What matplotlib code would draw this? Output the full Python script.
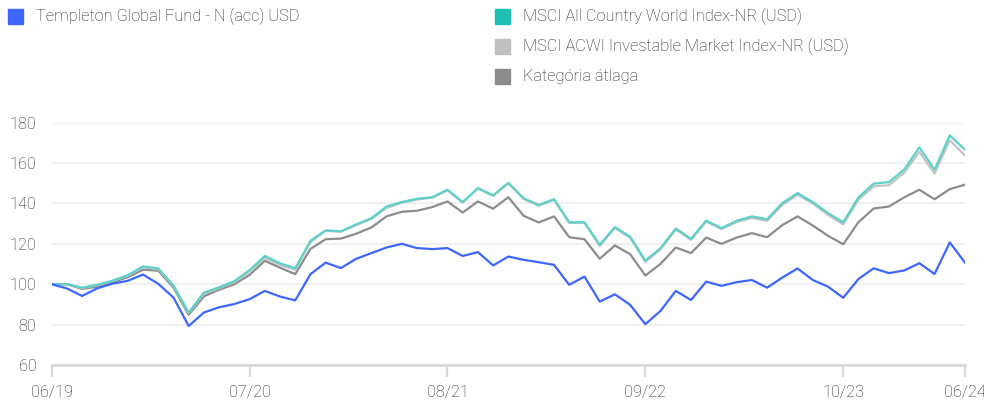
import matplotlib
matplotlib.use("Agg")
import matplotlib.pyplot as plt
from matplotlib.patches import Rectangle
import numpy as np

# ---------------- data ----------------
tick_pos = [0, 13, 26, 39, 52, 60]
tick_labels = ["06/19", "07/20", "08/21", "09/22", "10/23", "06/24"]
y_ticks = [60, 80, 100, 120, 140, 160, 180]

fund = [100, 97.9, 94.2, 98.0, 100.3, 101.7, 104.8, 100.2, 93.4, 79.3,
        86.0, 88.6, 90.2, 92.6, 96.7, 93.9, 92.0, 105.0, 110.7, 108.0,
        112.6, 115.4, 118.2, 120.0, 117.9, 117.4, 117.9, 114.0, 115.9, 109.3,
        113.7, 112.1, 110.9, 109.6, 99.7, 103.8, 91.4, 95.0, 89.8, 80.2,
        86.8, 96.7, 92.2, 101.3, 99.2, 101.0, 102.1, 98.3, 103.3, 107.8,
        102.1, 98.8, 93.3, 102.6, 107.9, 105.5, 106.8, 110.4, 105.1, 120.7,
        110.7]

acwi = [100, 100, 98.3, 99.7, 101.8, 104.5, 108.8, 107.8, 99.3, 86.0,
        95.8, 98.5, 101.5, 107.0, 114.0, 110.4, 107.9, 121.5, 126.7, 126.2,
        129.6, 132.7, 138.5, 140.7, 142.3, 143.1, 146.8, 140.7, 147.6, 144.0,
        150.2, 142.6, 139.3, 142.1, 130.7, 130.7, 119.5, 128.3, 123.6, 111.7,
        117.9, 127.6, 122.5, 131.5, 127.8, 131.4, 133.6, 132.2, 140.2, 145.1,
        140.7, 135.2, 130.7, 143.0, 149.8, 150.6, 156.7, 167.8, 156.7, 173.7,
        166.6]

imi = [100, 100, 98.1, 99.5, 101.6, 104.2, 108.5, 107.5, 99.0, 85.8,
       95.3, 98.1, 101.0, 106.3, 113.0, 109.6, 107.2, 120.9, 126.4, 126.0,
       129.3, 132.3, 137.8, 140.3, 142.0, 142.8, 146.5, 140.5, 147.4, 143.8,
       150.0, 142.2, 138.9, 141.8, 130.4, 130.4, 119.0, 127.8, 123.0, 111.0,
       117.3, 127.0, 122.0, 131.0, 127.3, 130.8, 132.8, 131.4, 139.3, 144.3,
       140.0, 134.4, 129.6, 141.8, 148.5, 149.0, 155.2, 165.5, 154.8, 171.3,
       163.8]

category = [100, 100, 97.7, 98.8, 101.0, 103.5, 107.2, 106.7, 98.3, 84.9,
            94.0, 97.3, 100.0, 104.6, 111.6, 108.2, 105.0, 117.5, 122.3, 122.6,
            125.0, 128.1, 133.6, 135.9, 136.4, 138.2, 141.0, 135.5, 141.0, 137.4,
            143.1, 133.9, 130.6, 133.6, 123.3, 122.3, 112.6, 119.2, 114.9, 104.3,
            110.1, 118.2, 115.4, 123.1, 120.0, 123.1, 125.3, 123.3, 129.3, 133.6,
            129.1, 124.0, 119.8, 130.7, 137.5, 138.5, 143.0, 146.8, 142.1, 147.1,
            149.3]

series_names = ["Templeton Global Fund - N (acc) USD",
                "MSCI All Country World Index-NR (USD)",
                "MSCI ACWI Investable Market Index-NR (USD)",
                "Kategória átlaga"]
colors = ["#3D67FF", "#1DBFB2", "#C0C0C0", "#8C8C8C"]
line_colors = ["#3D67FF", "#5CD1C8", "#C4C4C4", "#8C8C8C"]

# ---------------- figure ----------------
plt.rcParams['font.family'] = ['Roboto', 'DejaVu Sans']
plt.rcParams['font.weight'] = 'light'
FS = 11.8
TXT = '#222222'
W, H = 984, 405
fig = plt.figure(figsize=(W / 100, H / 100), dpi=100)
ax = fig.add_axes([51.7 / W, (H - 365) / H, (965 - 51.7) / W, (365 - 122.7) / H])

x = np.arange(len(fund))
ax.plot(x, category, color=line_colors[3], lw=1.6, zorder=3)
ax.plot(x, imi, color=line_colors[2], lw=1.6, zorder=4)
ax.plot(x, acwi, color=line_colors[1], lw=1.6, zorder=5)
ax.plot(x, fund, color=line_colors[0], lw=1.6, zorder=6)

ax.set_xlim(0, 60)
ax.set_ylim(60, 180)
ax.set_yticks(y_ticks)
ax.set_xticks(tick_pos)
ax.set_xticklabels(tick_labels)
ax.grid(axis='y', color='#F0F0F0', lw=1.5, zorder=0)
ax.set_axisbelow(True)
for s in ['top', 'right', 'left']:
    ax.spines[s].set_visible(False)
ax.spines['bottom'].set_color('#D9D9D9')
ax.spines['bottom'].set_linewidth(2)
ax.spines['bottom'].set_zorder(1)
ax.tick_params(axis='x', length=8.5, width=1.6, color='#D9D9D9', pad=6,
               labelsize=FS, labelcolor=TXT)
ax.tick_params(axis='y', length=0, pad=11, labelsize=FS, labelcolor=TXT)
last = ax.get_xticklabels()[-1]
last.set_x(59.7)

# ---------------- legend ----------------
legend_items = [(8, 16, 0), (495, 16, 1), (495, 46, 2), (495, 76, 3)]
for (lx, ly, idx) in legend_items:
    fig.patches.append(Rectangle((lx / W, (H - ly - 8) / H), 15 / W, 15 / H,
                                 transform=fig.transFigure, color=colors[idx]))
    fig.text((lx + 28) / W, (H - ly) / H, series_names[idx], fontsize=FS,
             color=TXT, va='center', ha='left')

fig.savefig("out.png", dpi=100)
